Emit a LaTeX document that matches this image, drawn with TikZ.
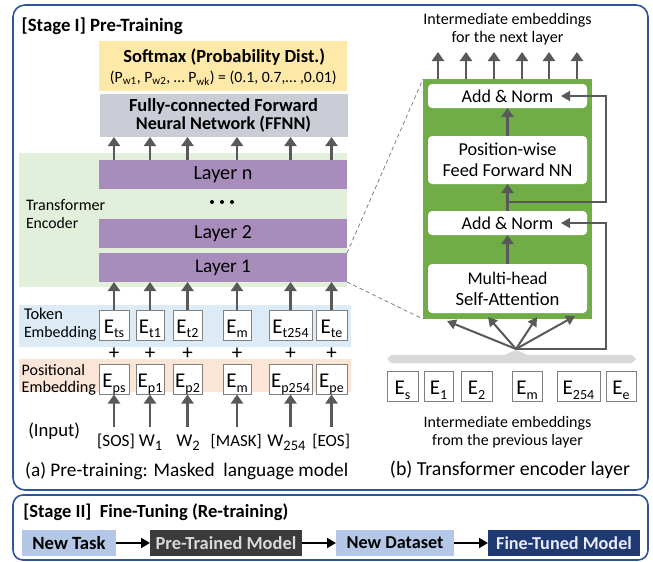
\documentclass[tikz,border=0pt]{standalone}
\usepackage{graphicx}
\usepackage{fontspec}
\setmainfont{Carlito}
\usetikzlibrary{arrows.meta}
\definecolor{frameblue}{HTML}{2F5597}
\definecolor{softy}{HTML}{FFE9A8}
\definecolor{ffnng}{HTML}{CACDD6}
\definecolor{encg}{HTML}{E2EFDA}
\definecolor{layp}{HTML}{A88DBC}
\definecolor{tokb}{HTML}{DDEBF7}
\definecolor{poso}{HTML}{FBE5D6}
\definecolor{dkg}{HTML}{70AD47}
\definecolor{arrg}{HTML}{595959}
\definecolor{barg}{HTML}{D9D9D9}
\definecolor{boxg}{HTML}{808080}
\definecolor{lblue}{HTML}{B4C7E7}
\definecolor{dgray}{HTML}{3B3B3B}
\definecolor{navy}{HTML}{1F3A73}
\newcommand\fs[1]{\fontsize{#1}{#1}\selectfont}
\newcommand\fitw[2]{\resizebox{#1}{!}{#2}}
\newcommand\Es[1]{E\raisebox{-4.5pt}{\fs{14}#1}}
\newcommand\Ws[1]{W\raisebox{-4pt}{\fs{14.5}#1}}
\begin{document}
\begin{tikzpicture}[x=1pt,y=-1pt,
  every node/.style={inner sep=0pt, outer sep=0pt},
  frame/.style={draw=frameblue, line width=1.6pt, rounded corners=12pt},
  ar/.style={draw=arrg, line width=2.3pt, -{Triangle[length=9pt,width=12pt]}},
  fanar/.style={draw=arrg, line width=2pt, -{Triangle[length=9pt,width=10pt]}},
  res/.style={draw=arrg, line width=1.5pt, -{Triangle[length=9pt,width=10pt]}},
  sar/.style={draw=black, line width=2pt, -{Triangle[length=9pt,width=10pt]}},
  dsh/.style={draw=gray, line width=0.8pt, dash pattern=on 4pt off 3pt},
  ebox/.style={draw=boxg, line width=0.9pt, fill=white, minimum height=30pt,
    text height=18pt, text depth=2pt, font=\fs{21}},
  layer/.style={fill=layp, minimum width=248pt, minimum height=29pt, font=\fs{20}},
  lbl/.style={anchor=west, align=left, font=\fontsize{16}{18}\selectfont},
  inl/.style={font=\fs{18}, text height=12pt, text depth=4pt},
  plus/.style={font=\fs{21}},
  wbox/.style={fill=white, rounded corners=4pt, minimum width=159pt, align=center,
    font=\fontsize{18}{21}\selectfont},
  midtxt/.style={align=center, font=\fontsize{19}{18.5}\selectfont},
  s2box/.style={minimum height=26pt, font=\bfseries\fs{20}},
  captxt/.style={font=\fs{20}}
]
\useasboundingbox (0,0) rectangle (653,562);

% ---------- Stage I frame ----------
\draw[frame] (13,5) rectangle (648,490);
\node[anchor=west, font=\bfseries\fs{19}] (title1) at (21.7,26) {\fitw{161pt}{[Stage I] Pre-Training}};

% Softmax and FFNN
\node[fill=softy, minimum width=248pt, minimum height=50pt] (smx) at (223,66) {};
\node[font=\bfseries\fs{19}] (smxt) at (224.2,57) {\fitw{201.7pt}{Softmax (Probability Dist.)}};
\node[font=\fs{15.3}] (smxs) at (223.3,78) {\fitw{226.7pt}{(P\textsubscript{w1}, P\textsubscript{w2}, \ldots\ P\textsubscript{wk}) = (0.1, 0.7,\ldots\ ,0.01)}};
\node[fill=ffnng, minimum width=248pt, minimum height=43pt, align=center,
  font=\bfseries\fontsize{18.5}{18}\selectfont] (ffnn) at (223.5,115.5)
  {\fitw{189pt}{Fully-connected Forward}\\\fitw{175pt}{Neural Network (FFNN)}};

% Encoder
\node[fill=encg, minimum width=328pt, minimum height=134pt] (enc) at (183,220) {};
\node[layer] (ln) at (223,174.5) {\fitw{59pt}{Layer n}};
\node[layer] (l2) at (223,233.5) {\fitw{57.7pt}{Layer 2}};
\node[layer] (l1) at (223,267.5) {\fitw{56pt}{Layer 1}};
\fill[black] (212,202) circle (2) (222,202) circle (2) (232,202) circle (2);
\node[lbl] (enct) at (26,214) {\fitw{79.3pt}{Transformer}\\\fitw{52.3pt}{Encoder}};

% Embedding bands
\node[fill=tokb, minimum width=332pt, minimum height=42pt] (tokband) at (185,326) {};
\node[fill=poso, minimum width=332pt, minimum height=33pt] (posband) at (185,375.5) {};
\node[lbl] (tokl) at (24,324) {\fitw{39pt}{Token}\\\fitw{72.7pt}{Embedding}};
\node[lbl, font=\fontsize{16}{17}\selectfont] (posl) at (21.7,379.5) {\fitw{63.3pt}{Positional}\\\fitw{74.3pt}{Embedding}};

% Token boxes
\node[ebox, minimum width=30pt] (t1) at (114,325) {\Es{ts}};
\node[ebox, minimum width=28pt] (t2) at (150,325) {\Es{t1}};
\node[ebox, minimum width=29pt] (t3) at (187.5,325) {\Es{t2}};
\node[ebox, minimum width=28pt] (t4) at (237,325) {\Es{m}};
\node[ebox, minimum width=43pt] (t5) at (290.5,325) {\Es{t254}};
\node[ebox, minimum width=31pt] (t6) at (331.5,325) {\Es{te}};
% Positional boxes
\node[ebox, minimum width=30pt] (p1) at (114,379.5) {\Es{ps}};
\node[ebox, minimum width=28pt] (p2) at (150,379.5) {\Es{p1}};
\node[ebox, minimum width=29pt] (p3) at (187.5,379.5) {\Es{p2}};
\node[ebox, minimum width=28pt] (p4) at (237,379.5) {\Es{m}};
\node[ebox, minimum width=43pt] (p5) at (290.5,379.5) {\Es{p254}};
\node[ebox, minimum width=31pt] (p6) at (331.5,379.5) {\Es{pe}};
% plus signs
\foreach \i in {1,...,6}{
  \node[plus] (pl\i) at (t\i.south |- 0,354) {+};
}
% Inputs
\node[anchor=west, font=\fs{19}] (inp) at (28.3,431) {\fitw{51.7pt}{(Input)}};
\node[inl] (in1) at (116,442) {\fitw{37.7pt}{[SOS]}};
\node[inl] (in2) at (150.5,442) {\Ws{1}};
\node[inl] (in3) at (188,442) {\Ws{2}};
\node[inl] (in4) at (236.2,442) {\fitw{51pt}{[MASK]}};
\node[inl] (in5) at (286.5,442) {\Ws{254}};
\node[inl] (in6) at (331.2,442) {\fitw{37.7pt}{[EOS]}};

\foreach \i in {1,...,6}{
  \draw[ar, shorten <=7pt] (p\i.south |- in\i.north) -- (p\i.south);
  \draw[ar] (t\i.north) -- (t\i.north |- l1.south);
  \draw[ar] (t\i.north |- ln.north) -- (t\i.north |- ffnn.south);
}

\node[captxt] (capa) at (186.7,471) {\fitw{323pt}{(a) Pre-training: Masked\ \ language model}};

% ---------- Right panel ----------
\node[fill=dkg, minimum width=169pt, minimum height=240pt] (gbox) at (507.5,199) {};
\node[wbox, minimum height=24pt] (an2) at (507.5,96) {\fitw{91.7pt}{Add \& Norm}};
\node[wbox, minimum height=48pt] (pff) at (507.5,160) {\fitw{98pt}{Position-wise}\\\fitw{130pt}{Feed Forward NN}};
\node[wbox, minimum height=24pt] (an1) at (507.5,223) {\fitw{91.7pt}{Add \& Norm}};
\node[wbox, minimum height=49pt] (mh) at (507.5,288.5) {\fitw{80pt}{Multi-head}\\\fitw{104pt}{Self-Attention}};

\draw[ar] (pff.north) -- (an2.south);
\draw[ar] (an1.north) -- (pff.south);
\draw[ar] (mh.north) -- (an1.south);

% top outputs
\foreach \x [count=\k] in {438,466,494,522,549,577}{
  \coordinate (o\k) at (\x,52);
  \draw[ar] (o\k |- gbox.north) -- (o\k);
}
\node[midtxt] (toptxt) at (507.5,29) {\fitw{168.3pt}{Intermediate embeddings}\\\fitw{111.7pt}{for the next layer}};

% residual connections
\coordinate (j1) at (507.5,202);
\coordinate (r1) at (606,96);
\draw[res] (j1) -| (r1) -- ([xshift=-26pt]an2.east);
\coordinate (fan) at (516,349);
\coordinate (r2) at (606,223);
\draw[res] (fan) -| (r2) -- ([xshift=-26pt]an1.east);

% fan arrows
\coordinate (f1) at (447,321);
\coordinate (f2) at (488,317);
\coordinate (f3) at (537,317);
\coordinate (f4) at (575,316);
\foreach \k in {1,...,4}{ \draw[fanar] (fan) -- (f\k); }

% bracket bar
\fill[barg] (391,363) -- (387,359) -- (391,355) -- (504,355) -- (516,350) -- (528,355)
  -- (632,355) -- (636,359) -- (632,363) -- cycle;

% bottom embeddings
\node[ebox, minimum width=31pt] (e1) at (402.5,386.5) {\Es{s}};
\node[ebox, minimum width=29pt] (e2) at (438.5,386.5) {\Es{1}};
\node[ebox, minimum width=31pt] (e3) at (476.5,386.5) {\Es{2}};
\node[ebox, minimum width=30pt] (e4) at (527,386.5) {\Es{m}};
\node[ebox, minimum width=43pt] (e5) at (578.5,386.5) {\Es{254}};
\node[ebox, minimum width=30pt] (e6) at (621,386.5) {\Es{e}};
\node[midtxt] (bottxt) at (507.5,432) {\fitw{167.7pt}{Intermediate embeddings}\\\fitw{150.7pt}{from the previous layer}};

\node[captxt] (capb) at (510,470) {\fitw{240pt}{(b) Transformer encoder layer}};

% zoom lines
\draw[dsh] (l1.north east) -- (gbox.north west);
\draw[dsh] (l1.south east) -- (gbox.south west);

% ---------- Stage II ----------
\draw[frame, rounded corners=10pt] (13,495) rectangle (648,560);
\node[anchor=west, font=\bfseries\fs{19}] (title2) at (23.3,512) {\fitw{265pt}{[Stage II]\ \ Fine-Tuning (Re-training)}};
\node[s2box, fill=lblue, minimum width=94pt] (nt) at (69,543) {\fitw{73.3pt}{New Task}};
\node[s2box, fill=dgray, text=barg, minimum width=152pt] (ptm) at (226,543) {\fitw{140.7pt}{Pre-Trained Model}};
\node[s2box, fill=lblue, minimum width=118pt] (nd) at (395,543) {\fitw{96.7pt}{New Dataset}};
\node[s2box, fill=navy, text=white!92!blue, minimum width=152pt] (ftm) at (564,543) {\fitw{135.7pt}{Fine-Tuned Model}};
\draw[sar] (nt) -- (ptm);
\draw[sar] (ptm) -- (nd);
\draw[sar] (nd) -- (ftm);
\end{tikzpicture}
\end{document}
